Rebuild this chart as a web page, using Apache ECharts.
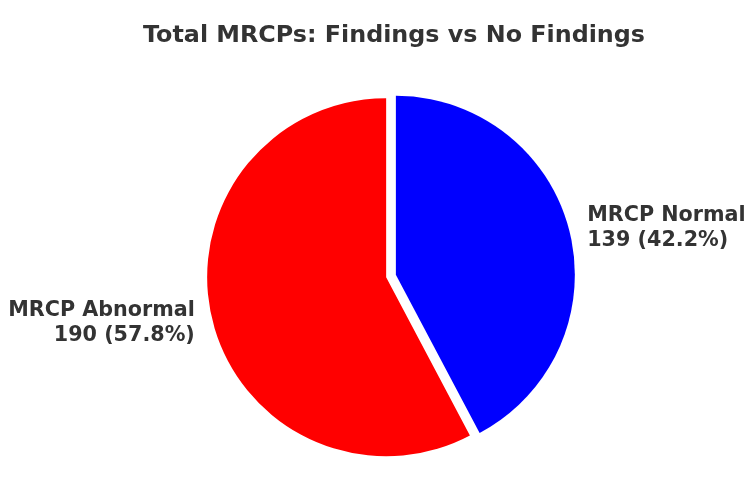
<!DOCTYPE html>
<html>
<head>
<meta charset="utf-8">
<script src="https://cdn.jsdelivr.net/npm/echarts@6/dist/echarts.min.js"></script>
<style>html,body{margin:0;padding:0;background:#fff;}#c{width:750px;height:478px;}</style>
</head>
<body>
<div id="c"></div>
<script>
const categories = ['MRCP Normal', 'MRCP Abnormal'];
const values = [139, 190];
const colors = ['#0000ff', '#ff0000'];

const chart = echarts.init(document.getElementById('c'), null, {renderer: 'canvas'});
chart.setOption({
  animation: false,
  backgroundColor: '#ffffff',
  title: {
    text: 'Total MRCPs: Findings vs No Findings',
    left: 389,
    top: 19,
    textAlign: 'center',
    textStyle: {fontFamily: 'DejaVu Sans', fontWeight: 'bold', fontSize: 23.8, color: '#333333'}
  },
  series: [{
    type: 'pie',
    center: [391, 276],
    radius: 179,
    startAngle: 90,
    clockwise: true,
    selectedMode: 'multiple',
    selectedOffset: 5,
    avoidLabelOverlap: false,
    percentPrecision: 1,
    emphasis: {disabled: true},
    label: {
      show: true,
      position: 'outside',
      formatter: '{b}\n{c} ({d}%)',
      fontFamily: 'DejaVu Sans',
      fontWeight: 'bold',
      fontSize: 20.7,
      lineHeight: 25,
      color: '#333333'
    },
    labelLine: {show: false, length: 13, length2: 0},
    data: categories.map((n, i) => ({name: n, value: values[i], selected: true, itemStyle: {color: colors[i]}}))
  }]
});
</script>
</body>
</html>
